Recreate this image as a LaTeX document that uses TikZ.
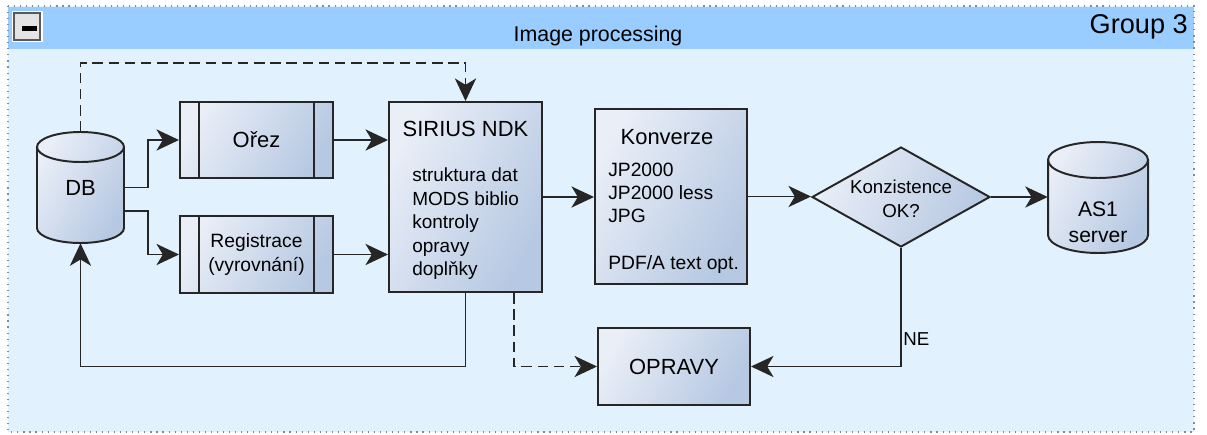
\documentclass[tikz,border=0pt]{standalone}
\usepackage{fontspec}
\setmainfont{Liberation Sans}
\usetikzlibrary{arrows.meta,shapes.geometric}
\definecolor{hdr}{HTML}{99CCFF}
\definecolor{bodybg}{HTML}{E1F2FE}
\definecolor{nodeA}{HTML}{E9EEF7}
\definecolor{nodeB}{HTML}{B6C8E2}
\definecolor{linec}{HTML}{262626}
\definecolor{dotc}{HTML}{7F8C99}
\definecolor{btnc}{HTML}{E4E4E4}
\newcommand{\upx}{0.025cm}
% cylinder: cx, ytop, ybottom, rx, ry
\newcommand{\cylshape}[5]{%
  \path[cylfill] ({#1-#4},{#2+#5}) -- ({#1-#4},{#3-#5})
     arc[start angle=180,end angle=0,x radius=#4,y radius=#5]
     -- ({#1+#4},{#2+#5})
     arc[start angle=0,end angle=-180,x radius=#4,y radius=#5] -- cycle;
  \draw[cylline] ({#1-#4},{#2+#5})
     arc[start angle=180,end angle=0,x radius=#4,y radius=#5];
}
\begin{document}
\begin{tikzpicture}[x=0.025cm,y=-0.025cm,
  gradfill/.style={left color=nodeA, right color=nodeB, shading angle=60},
  boxst/.style={draw=linec, line width=1.4pt, gradfill, inner sep=0pt},
  cylfill/.style={draw=linec, line width=1.4pt, gradfill},
  cylline/.style={draw=linec, line width=1.4pt},
  conn/.style={draw=linec, line width=1.4pt, -{Stealth[length=16pt,width=15pt,inset=4.5pt]}},
  dashconn/.style={conn, dash pattern=on 7.5pt off 4pt},
  bigtxt/.style={font=\fontsize{15.6}{18.5}\selectfont},
  smalltxt/.style={font=\fontsize{13.5}{16.7}\selectfont},
  plain/.style={inner sep=0pt}]
\useasboundingbox (0,0) rectangle (1207,434);
% group frame
\fill[bodybg] (8,6) rectangle (1194,432);
\fill[hdr] (8,7) rectangle (1194,49);
\draw[dotc, line width=0.8pt, dash pattern=on 0.8pt off 3.5pt] (8,6) rectangle (1194,432);
% collapse button
\fill[white] (12,11) rectangle (43,42);
\draw[fill=btnc, draw=black!65, line width=0.9pt] (14,13) rectangle (40,40);
\fill[black] (22,26) rectangle (37,31);
\node[plain, anchor=base, font=\fontsize{15.2}{18}\selectfont] (title) at (598,41) {Image processing};
\node[plain, anchor=base east, font=\fontsize{19.3}{22}\selectfont] (grp) at (1188,33.5) {Group 3};

% DB cylinder
\cylshape{80.5}{132}{243}{43.5}{15}
\node[plain, minimum width=87*\upx, minimum height=111*\upx, bigtxt] (db) at (80.5,187.5) {DB};

% Orez
\node[boxst, minimum width=153*\upx, minimum height=76*\upx, bigtxt] (orez) at (256.5,140) {Ořez};
\draw[cylline] ([xshift=20*\upx]orez.north west) -- ([xshift=20*\upx]orez.south west);
\draw[cylline] ([xshift=-20*\upx]orez.north east) -- ([xshift=-20*\upx]orez.south east);

% Registrace
\node[boxst, minimum width=153*\upx, minimum height=77*\upx, align=center,
  font=\fontsize{13.7}{17}\selectfont] (reg) at (256.5,254.5) {Registrace\\(vyrovnání)};
\draw[cylline] ([xshift=20*\upx]reg.north west) -- ([xshift=20*\upx]reg.south west);
\draw[cylline] ([xshift=-20*\upx]reg.north east) -- ([xshift=-20*\upx]reg.south east);

% SIRIUS NDK
\node[boxst, minimum width=153*\upx, minimum height=190*\upx] (sirius) at (465.5,197) {};
\node[plain, bigtxt] (siriust) at (465.5,129) {SIRIUS NDK};
\node[plain, smalltxt, align=left, anchor=west] (siriusb) at (412,224)
  {struktura dat\\MODS biblio\\kontroly\\opravy\\doplňky};

% Konverze
\node[boxst, minimum width=152*\upx, minimum height=175*\upx] (konv) at (671,196.5) {};
\node[plain, bigtxt] (konvt) at (667,137) {Konverze};
\node[plain, align=left, anchor=west,
  font=\fontsize{13.7}{16.4}\selectfont] (konvb) at (608,193) {JP2000\\JP2000 less\\JPG};
\node[plain, anchor=west, font=\fontsize{13.7}{16.4}\selectfont] (konvp) at (608,265) {PDF/A text opt.};

% decision
\node[diamond, boxst, minimum width=178*\upx, minimum height=100*\upx] (dia) at (901,197) {};
\node[plain, align=center, font=\fontsize{13.3}{17}\selectfont] (diat) at (901,199) {Konzistence\\OK?};

% AS1 server
\cylshape{1098}{142}{253}{50}{18}
\node[plain, minimum width=100*\upx, minimum height=111*\upx] (as1) at (1098,197.5) {};
\node[plain, align=center, font=\fontsize{15}{18.5}\selectfont] (as1t) at (1098,222.5) {AS1\\server};

% OPRAVY
\node[boxst, minimum width=152*\upx, minimum height=77*\upx, bigtxt] (opravy) at (674,366.5) {OPRAVY};

% connectors
\draw[dashconn] (db.north) -- ++(0,-69) -| (sirius.north);
\draw[conn] (db.east) -- ++(24,0) |- (orez.west);
\draw[conn] ([yshift=-23.5*\upx]db.east) -- ++(24,0) |- (reg.west);
\draw[conn] (orez.east) -- (orez.east -| sirius.west);
\draw[conn] (reg.east) -- (reg.east -| sirius.west);
\draw[conn] (sirius.east) -- (sirius.east -| konv.west);
\draw[conn] (konv.east) -- (konv.east -| dia.west);
\draw[conn] (dia.east) -- (dia.east -| as1.west);
\draw[conn] (dia.south) |- (opravy.east);
\node[plain, anchor=west, font=\fontsize{13.3}{16}\selectfont] (ne) at (903,339) {NE};
\draw[dashconn] ([xshift=48.5*\upx]sirius.south) |- (opravy.west);
\draw[conn] (sirius.south) -- (sirius.south |- opravy.west) -| (db.south);
\end{tikzpicture}
\end{document}
